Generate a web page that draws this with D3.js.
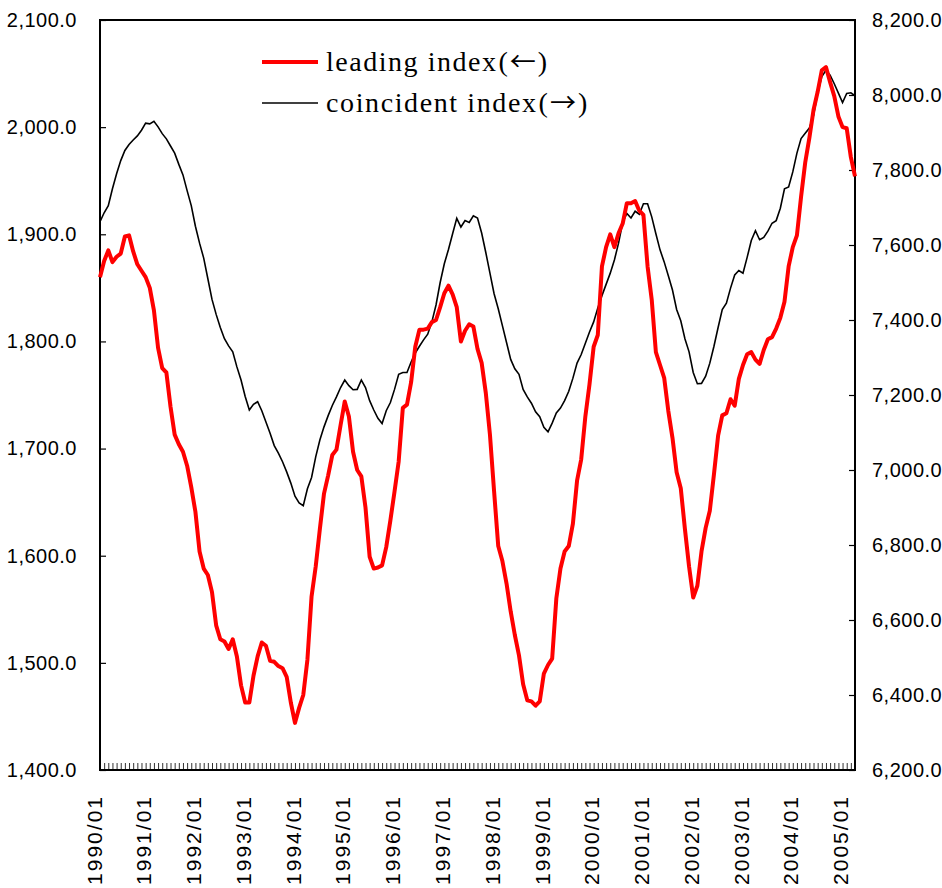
<!DOCTYPE html>
<html>
<head>
<meta charset="utf-8">
<script src="https://cdn.jsdelivr.net/npm/d3@7"></script>
<style>
  body { margin: 0; background: #fff; }
  svg text { font-family: "Liberation Sans", Arial, sans-serif; fill: #000; }
</style>
</head>
<body>
<div id="chart"></div>
<script>
// monthly data, 1990/01 .. 2005/03
const leading = [
  1860, 1875, 1885, 1874, 1879, 1882, 1898, 1899, 1884, 1872, 1866, 1860,
  1850, 1829, 1794, 1775, 1771, 1739, 1713, 1704, 1697, 1684, 1664, 1641,
  1604, 1588, 1582, 1566, 1535, 1522, 1520, 1513, 1522, 1506, 1479, 1463,
  1463, 1488, 1506, 1519, 1516, 1502, 1501, 1497, 1495, 1487, 1463, 1444,
  1458, 1470, 1503, 1562, 1590, 1625, 1658, 1675, 1694, 1699, 1722, 1744,
  1730, 1697, 1680, 1674, 1645, 1599, 1588, 1589, 1591, 1608, 1633, 1660,
  1688, 1738, 1741, 1762, 1795, 1811, 1811, 1812, 1818, 1820, 1832, 1845,
  1852, 1844, 1832, 1800, 1810, 1816, 1814, 1793, 1780, 1752, 1713, 1660,
  1609, 1595, 1574, 1548, 1526, 1507, 1480, 1465, 1464, 1460, 1464, 1490,
  1498, 1504, 1560, 1588, 1604, 1609, 1630, 1670, 1690, 1730, 1760, 1795,
  1806, 1870, 1888, 1900, 1888, 1901, 1910, 1929, 1929, 1931, 1922, 1918,
  1870, 1839, 1790, 1778, 1766, 1735, 1710, 1678, 1663, 1625, 1590, 1561,
  1572, 1604, 1626, 1642, 1676, 1712, 1731, 1733, 1746, 1740, 1765, 1778,
  1788, 1790, 1783, 1779, 1792, 1802, 1804, 1812, 1822, 1837, 1870, 1888,
  1899, 1935, 1967, 1990, 2016, 2033, 2053, 2056, 2042, 2029, 2010, 2000,
  1999, 1972, 1954
];
const coincident = [
  7662, 7686, 7705, 7750, 7790, 7825, 7852, 7868, 7880, 7891, 7906, 7925,
  7923, 7930, 7915, 7897, 7883, 7864, 7845, 7815, 7787, 7745, 7705, 7650,
  7605, 7565, 7510, 7455, 7415, 7380, 7350, 7331, 7315, 7275, 7240, 7196,
  7160, 7175, 7182, 7158, 7128, 7098, 7065, 7045, 7022, 6995, 6965, 6930,
  6912, 6905, 6950, 6980, 7035, 7080, 7115, 7145, 7172, 7195, 7220, 7240,
  7225, 7214, 7215, 7240, 7220, 7185, 7160, 7138, 7124, 7158, 7180, 7215,
  7255, 7260, 7260, 7288, 7312, 7330, 7347, 7362, 7395, 7440, 7500, 7550,
  7588, 7630, 7671, 7648, 7665, 7660, 7678, 7672, 7632, 7580, 7525, 7470,
  7430, 7385, 7340, 7295, 7270, 7255, 7215, 7195, 7178, 7155, 7142, 7114,
  7102, 7125, 7152, 7165, 7185, 7210, 7245, 7285, 7308, 7338, 7368, 7395,
  7432, 7465, 7495, 7525, 7560, 7605, 7660, 7684, 7672, 7690, 7682, 7710,
  7710, 7675, 7630, 7587, 7555, 7518, 7480, 7428, 7398, 7350, 7315, 7260,
  7230, 7231, 7250, 7285, 7330, 7380, 7428, 7445, 7485, 7520, 7532, 7525,
  7567, 7612, 7638, 7614, 7620, 7637, 7658, 7665, 7698, 7750, 7755, 7795,
  7845, 7884, 7898, 7912, 7945, 8005, 8049, 8066, 8053, 8030, 8005, 7980,
  8004, 8006, 7998
];
const months = leading.map((d, i) => {
  const y = 1990 + Math.floor(i / 12);
  const m = (i % 12) + 1;
  return y + "/" + (m < 10 ? "0" + m : m);
});
const leftTicks = [1400, 1500, 1600, 1700, 1800, 1900, 2000, 2100];
const rightTicks = [6200, 6400, 6600, 6800, 7000, 7200, 7400, 7600, 7800, 8000, 8200];
const seriesNames = ["leading index", "coincident index"];
const seriesArrows = ["←", "→"];

const margin = { top: 20, right: 87, bottom: 118, left: 100 };
const W = 942, H = 888;
const width = W - margin.left - margin.right;
const height = H - margin.top - margin.bottom;

const svg = d3.select("#chart").append("svg")
  .attr("width", W).attr("height", H);
const g = svg.append("g")
  .attr("transform", `translate(${margin.left},${margin.top})`);

const x = d3.scaleLinear().domain([0, months.length - 1]).range([0, width]);
const yL = d3.scaleLinear().domain([1400, 2100]).range([height, 0]);
const yR = d3.scaleLinear().domain([6200, 8200]).range([height, 0]);
const fmt = d3.format(",.1f");

// monthly ticks along the bottom
const xAxis = g.append("g")
  .attr("transform", `translate(0,${height})`)
  .call(d3.axisBottom(x).tickValues(d3.range(months.length)).tickSize(-7).tickFormat(""));
xAxis.select(".domain").remove();
xAxis.selectAll("line").attr("stroke", "#333").attr("stroke-width", 1);

// year labels, rotated
g.append("g").selectAll("text")
  .data(months.filter(m => m.endsWith("/01")))
  .join("text")
  .attr("transform", d => `translate(${x(months.indexOf(d)) - 6},${height + 25}) rotate(-90)`)
  .attr("text-anchor", "end")
  .attr("dy", "0.36em")
  .style("font-size", "21px")
  .style("letter-spacing", "2px")
  .text(d => d);

const left = g.append("g")
  .call(d3.axisLeft(yL).tickValues(leftTicks).tickSize(-6).tickPadding(23).tickFormat(fmt));
const right = g.append("g")
  .attr("transform", `translate(${width},0)`)
  .call(d3.axisRight(yR).tickValues(rightTicks).tickSize(-6).tickPadding(17).tickFormat(fmt));
[left, right].forEach(a => {
  a.select(".domain").remove();
  a.selectAll("line").attr("stroke", "#000").attr("stroke-width", 1.2);
  a.selectAll("text").style("font-size", "20px").style("letter-spacing", "0.5px");
});

// plot frame
g.append("rect")
  .attr("width", width).attr("height", height)
  .attr("fill", "none").attr("stroke", "#000").attr("stroke-width", 2);

const lineL = d3.line().x((d, i) => x(i)).y(d => yL(d));
const lineR = d3.line().x((d, i) => x(i)).y(d => yR(d));

g.append("path").datum(coincident)
  .attr("d", lineR).attr("fill", "none")
  .attr("stroke", "#000").attr("stroke-width", 1.6);
g.append("path").datum(leading)
  .attr("d", lineL).attr("fill", "none")
  .attr("stroke", "#ff0000").attr("stroke-width", 4).attr("stroke-linejoin", "round");

// legend
const legend = svg.append("g").attr("transform", "translate(262,62)");
const legendStyle = [
  { color: "#ff0000", w: 4, len: 170 },
  { color: "#000", w: 1.6, len: 210 }
];
seriesNames.forEach((name, i) => {
  const row = legend.append("g").attr("transform", `translate(0,${i * 41})`);
  row.append("line").attr("x1", 0).attr("x2", 56)
    .attr("stroke", legendStyle[i].color).attr("stroke-width", legendStyle[i].w);
  const t = row.append("text").attr("x", 64).attr("y", 9)
    .style("font-family", "'Liberation Serif', 'DejaVu Serif', serif")
    .style("font-size", "28px");
  t.append("tspan")
    .attr("textLength", legendStyle[i].len).attr("lengthAdjust", "spacing")
    .text(name);
  t.append("tspan").attr("dx", 1).text("(");
  t.append("tspan").style("font-family", "'Noto Sans CJK JP', sans-serif")
    .style("font-size", "26px").attr("dx", 2).text(seriesArrows[i]);
  t.append("tspan").attr("dx", 2).text(")");
});
</script>
</body>
</html>
